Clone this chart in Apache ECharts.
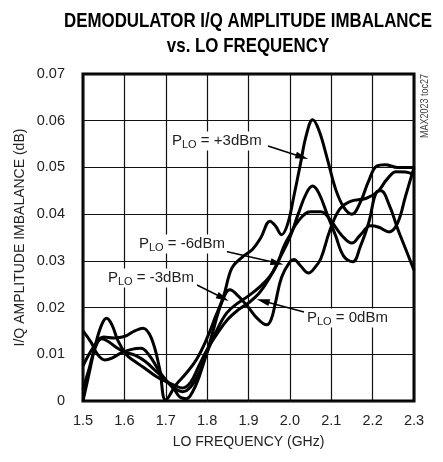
<!DOCTYPE html>
<html>
<head>
<meta charset="utf-8">
<script src="https://cdn.jsdelivr.net/npm/echarts@6/dist/echarts.min.js"></script>
<style>
  html, body { margin: 0; padding: 0; background: #fff; }
  #chart { width: 443px; height: 462px; }
</style>
</head>
<body>
<div id="chart"></div>
<script>
// P_LO = +3dBm
const freqP3 = [1.5, 1.525, 1.55, 1.575, 1.6, 1.625, 1.645, 1.665, 1.685, 1.7, 1.725, 1.75, 1.775, 1.8, 1.82, 1.84, 1.86, 1.885, 1.91, 1.93, 1.952, 1.965, 1.98, 1.995, 2.01, 2.025, 2.04, 2.055, 2.07, 2.09, 2.11, 2.13, 2.15, 2.17, 2.19, 2.21, 2.23, 2.26, 2.3];
const ampP3 = [0.0075, 0.0115, 0.0137, 0.0135, 0.0138, 0.015, 0.0156, 0.0135, 0.007, 0.0002, 0.0035, 0.006, 0.009, 0.0135, 0.018, 0.0225, 0.0285, 0.0308, 0.0325, 0.035, 0.0385, 0.0375, 0.0356, 0.038, 0.044, 0.0505, 0.057, 0.0602, 0.058, 0.052, 0.0455, 0.0415, 0.040, 0.0425, 0.047, 0.0503, 0.0506, 0.050, 0.050];

// P_LO = -6dBm
const freqM6 = [1.5, 1.52, 1.535, 1.553, 1.57, 1.59, 1.615, 1.64, 1.66, 1.68, 1.7, 1.72, 1.74, 1.76, 1.78, 1.8, 1.82, 1.847, 1.875, 1.9, 1.928, 1.95, 1.968, 1.985, 2.0, 2.02, 2.05, 2.075, 2.1, 2.125, 2.15, 2.17, 2.195, 2.215, 2.24, 2.26, 2.28, 2.3];
const ampM6 = [0.015, 0.0125, 0.010, 0.0088, 0.0092, 0.0102, 0.011, 0.0113, 0.0098, 0.007, 0.0045, 0.0028, 0.002, 0.003, 0.006, 0.0105, 0.0145, 0.0188, 0.021, 0.0225, 0.0245, 0.0265, 0.029, 0.033, 0.0355, 0.0385, 0.0405, 0.0405, 0.0385, 0.0355, 0.0338, 0.0355, 0.0375, 0.0372, 0.0362, 0.038, 0.044, 0.050];

// P_LO = -3dBm
const freqM3 = [1.5, 1.515, 1.53, 1.545, 1.557, 1.57, 1.585, 1.605, 1.625, 1.645, 1.678, 1.7, 1.72, 1.74, 1.76, 1.78, 1.8, 1.825, 1.85, 1.875, 1.9, 1.925, 1.95, 1.975, 2.0, 2.02, 2.04, 2.055, 2.07, 2.09, 2.11, 2.13, 2.152, 2.17, 2.19, 2.21, 2.22, 2.24, 2.26, 2.28, 2.3];
const ampM3 = [0.0, 0.006, 0.012, 0.0163, 0.0177, 0.0163, 0.0128, 0.0099, 0.0085, 0.0073, 0.0052, 0.0042, 0.0034, 0.0028, 0.004, 0.0075, 0.011, 0.0145, 0.0175, 0.0195, 0.021, 0.023, 0.0262, 0.0305, 0.035, 0.040, 0.0445, 0.046, 0.0445, 0.040, 0.0355, 0.031, 0.0298, 0.033, 0.038, 0.0448, 0.045, 0.042, 0.037, 0.0325, 0.028];

// P_LO = 0dBm
const freq0 = [1.5, 1.515, 1.53, 1.545, 1.56, 1.58, 1.6, 1.625, 1.65, 1.675, 1.7, 1.72, 1.735, 1.75, 1.765, 1.78, 1.8, 1.815, 1.835, 1.855, 1.875, 1.9, 1.92, 1.944, 1.955, 1.965, 1.98, 2.0, 2.01, 2.025, 2.045, 2.06, 2.075, 2.097, 2.12, 2.145, 2.185, 2.213, 2.235, 2.257, 2.28, 2.3];
const amp0 = [0.0025, 0.007, 0.0115, 0.0133, 0.0128, 0.0115, 0.0105, 0.0098, 0.0085, 0.0065, 0.0045, 0.0025, 0.0008, 0.0005, 0.002, 0.005, 0.0105, 0.0152, 0.021, 0.0238, 0.0225, 0.020, 0.0178, 0.0163, 0.0175, 0.021, 0.0265, 0.0298, 0.0303, 0.029, 0.0274, 0.0285, 0.0305, 0.0366, 0.041, 0.0427, 0.0434, 0.0449, 0.0475, 0.0491, 0.049, 0.0484];

const xTickLabels = ["1.5", "1.6", "1.7", "1.8", "1.9", "2.0", "2.1", "2.2", "2.3"];
const yTickLabels = ["0", "0.01", "0.02", "0.03", "0.04", "0.05", "0.06", "0.07"];

const FONT = "'Liberation Sans', Arial, sans-serif";
const TITLE = "DEMODULATOR I/Q AMPLITUDE IMBALANCE\nvs. LO FREQUENCY";
const TITLE_FONT = "bold 21px " + FONT;

// squeeze the title to the condensed width of the original
const measure = document.createElement("canvas").getContext("2d");
measure.font = TITLE_FONT;
const titleScale = 368 / measure.measureText(TITLE.split("\n")[0]).width;

const pairs = (xs, ys) => xs.map((x, i) => [x, ys[i]]);

const chart = echarts.init(document.getElementById("chart"), null, { renderer: "canvas" });

const lineSeries = (name, data) => ({
  name: name,
  type: "line",
  data: data,
  smooth: 0.4,
  showSymbol: false,
  silent: true,
  lineStyle: { color: "#000", width: 3 },
  z: 3,
});

const label = (x, y, value) => ({
  type: "text",
  x: x,
  y: y,
  z: 20,
  style: {
    text: "{m|P}{s|LO}{m| = " + value + "}",
    backgroundColor: "#fff",
    padding: [0, 2],
    verticalAlign: "middle",
    rich: {
      m: { fontFamily: FONT, fontSize: 15, lineHeight: 19, fill: "#222", verticalAlign: "middle" },
      s: { fontFamily: FONT, fontSize: 11, lineHeight: 19, fill: "#222", verticalAlign: "bottom" },
    },
  },
});

const arrow = (x1, y1, x2, y2) => [{ x: x1, y: y1 }, { x: x2, y: y2 }];

const option = {
  animation: false,
  grid: {
    left: 83,
    right: 29,
    top: 74,
    bottom: 61,
    show: true,
    borderColor: "#000",
    borderWidth: 3,
  },
  xAxis: {
    type: "value",
    min: 1.5,
    max: 2.3,
    interval: 0.1,
    name: "LO FREQUENCY (GHz)",
    nameLocation: "middle",
    nameGap: 34,
    nameMoveOverlap: false,
    nameTextStyle: { fontFamily: FONT, fontSize: 14, color: "#222" },
    axisLine: { show: false },
    axisTick: { show: false },
    axisLabel: {
      margin: 12,
      fontFamily: FONT,
      fontSize: 14.5,
      color: "#222",
      formatter: (v) => xTickLabels[Math.round((v - 1.5) * 10)],
    },
    splitLine: { show: true, lineStyle: { color: "#111", width: 1.2 } },
  },
  yAxis: {
    type: "value",
    min: 0,
    max: 0.07,
    interval: 0.01,
    name: "I/Q AMPLITUDE IMBALANCE (dB)",
    nameLocation: "middle",
    nameGap: 56,
    nameMoveOverlap: false,
    nameTextStyle: { fontFamily: FONT, fontSize: 14, color: "#222" },
    axisLine: { show: false },
    axisTick: { show: false },
    axisLabel: {
      margin: 18,
      fontFamily: FONT,
      fontSize: 14.5,
      color: "#222",
      formatter: (v) => yTickLabels[Math.round(v * 100)],
    },
    splitLine: { show: true, lineStyle: { color: "#111", width: 1.2 } },
  },
  series: [
    Object.assign(lineSeries("+3dBm", pairs(freqP3, ampP3)), {
      markLine: {
        silent: true,
        symbol: ["none", "triangle"],
        symbolSize: [7, 13],
        label: { show: false },
        lineStyle: { color: "#000", width: 1.5, type: "solid" },
        data: [
          arrow(268, 146, 302, 157),
          arrow(224, 251, 277, 263),
          arrow(197, 285, 223, 298),
          arrow(304, 312, 263, 301),
        ],
      },
    }),
    lineSeries("-6dBm", pairs(freqM6, ampM6)),
    lineSeries("-3dBm", pairs(freqM3, ampM3)),
    lineSeries("0dBm", pairs(freq0, amp0)),
  ],
  graphic: [
    {
      type: "text",
      x: 248,
      y: 9,
      scaleX: titleScale,
      style: {
        text: TITLE,
        font: TITLE_FONT,
        lineHeight: 25,
        align: "center",
        fill: "#000",
      },
    },
    {
      type: "text",
      x: 425,
      y: 74,
      rotation: Math.PI / 2,
      scaleX: 0.9,
      style: {
        text: "MAX2023 toc27",
        font: "10px " + FONT,
        align: "right",
        verticalAlign: "middle",
        fill: "#444",
      },
    },
    label(170, 141, "+3dBm"),
    label(137, 244, "-6dBm"),
    label(106, 278, "-3dBm"),
    label(305, 318, "0dBm"),
  ],
};

chart.setOption(option);
</script>
</body>
</html>
